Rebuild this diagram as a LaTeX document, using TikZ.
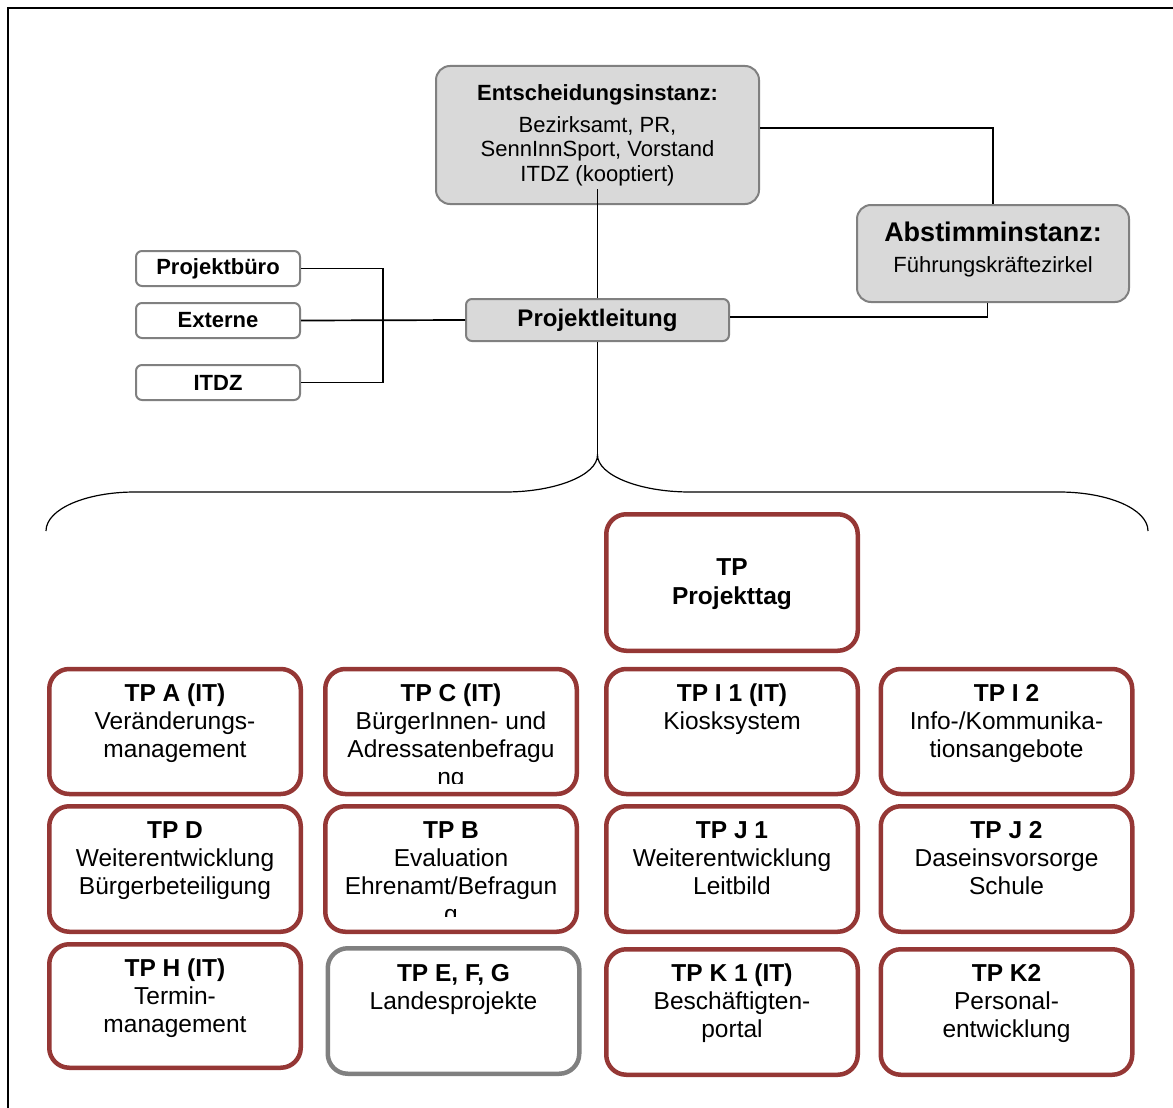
\documentclass[tikz,border=0pt]{standalone}
\usepackage{fontspec}
\setmainfont{Liberation Sans}
\definecolor{tpred}{HTML}{953735}
\definecolor{boxgray}{HTML}{808080}
\definecolor{boxfill}{HTML}{D9D9D9}
\newcommand{\fsz}[2]{\fontsize{#1}{#2}\selectfont}
\newcommand{\stt}[1]{\rule{0pt}{#1}}
\tikzset{
  gbox/.style={draw=boxgray, fill=boxfill, line width=2pt, rounded corners=14pt, inner sep=0pt},
  wbox/.style={draw=boxgray, fill=white, line width=2pt, rounded corners=6pt,
    minimum width=164pt, minimum height=35pt, inner sep=0pt, font=\fsz{22pt}{24pt}\bfseries},
  tpbox/.style={draw=tpred, fill=white, line width=4.5pt, rounded corners=20pt,
    minimum width=251.5pt, minimum height=125pt, inner sep=0pt},
  tpgray/.style={tpbox, draw=boxgray},
  tptext/.style={anchor=north, align=center, inner sep=0pt, font=\fsz{24.5pt}{28pt}},
  conn/.style={line width=1.7pt},
  thinconn/.style={line width=1.1pt},
}
\begin{document}
\begin{tikzpicture}[x=1pt,y=-1pt]
\useasboundingbox (0,0) rectangle (1173,1108);
% frame
\draw[line width=1.6pt] (8,1108) -- (8,8) -- (1173,8);

% top boxes
\node[gbox, minimum width=323pt, minimum height=138pt] (ent) at (597.5,135) {};
\node[anchor=north, align=center, inner sep=0pt, font=\fsz{22pt}{24.5pt}] (entt) at (597.5,84)
  {\stt{16pt}\textbf{Entscheidungsinstanz:}\\[7.5pt]Bezirksamt, PR,\\SennInnSport, Vorstand\\ITDZ (kooptiert)};

\node[gbox, minimum width=272pt, minimum height=97pt] (abst) at (993,253.5) {};
\node[anchor=north, align=center, inner sep=0pt, font=\fsz{22pt}{31pt}] (abstt) at (993,221.5)
  {\stt{19.5pt}{\fsz{27pt}{31pt}\bfseries Abstimminstanz:}\\Führungskräftezirkel};

\node[gbox, rounded corners=6pt, minimum width=263pt, minimum height=42pt, font=\fsz{24pt}{26pt}\bfseries] (pl) at (597.5,320) {Projektleitung};

\node[wbox] (pb) at (218,268.5) {Projektbüro};
\node[wbox] (ext) at (218,320.5) {Externe};
\node[wbox] (itdz) at (218,382.5) {ITDZ};

% connectors
\draw[conn] ([yshift=7pt]ent.east) -| (abst.north);
\draw[conn] ([xshift=-5.5pt]abst.south) |- ([yshift=3pt]pl.east);
\draw[conn] (pb.east) -- ++(82,0) |- (itdz.east);
\draw[conn] (ext.east) -- (pl.west);
\draw[thinconn] ([yshift=16pt]ent.south) -- (pl.north);
\coordinate (cusp) at (597.5,455);
\draw[thinconn] (pl.south) -- (cusp);

% brace
\coordinate (bl) at (46,531);
\coordinate (br) at (1148,531);
\draw[line width=1.2pt] (bl) .. controls (46,509) and (86,492) .. (135,492) -- (505,492)
  .. controls (556,492) and (597.5,475) .. (cusp)
  .. controls (597.5,475) and (639,492) .. (690,492) -- (1059,492)
  .. controls (1108,492) and (1148,509) .. (br);

% Projekttag
\node[tpbox, minimum height=136.5pt] (tpp) at (732,582.5) {};
\node[tptext, font=\fsz{24.5pt}{29pt}\bfseries] (tppt) at (732,557) {\stt{18pt}TP\\Projekttag};

% column 1
\node[tpbox] (ta) at (175,731.5) {};
\node[tptext] (tat) at (175,683) {\stt{18pt}\textbf{TP A (IT)}\\Veränderungs-\\management};
\node[tpbox, minimum height=125.5pt] (td) at (175,869) {};
\node[tptext] (tdt) at (175,820) {\stt{18pt}\textbf{TP D}\\Weiterentwicklung\\Bürgerbeteiligung};
\node[tpbox, minimum height=123.5pt] (th) at (175,1006) {};
\node[tptext] (tht) at (175,958) {\stt{18pt}\textbf{TP H (IT)}\\Termin-\\management};

% column 2
\node[tpbox] (tc) at (451,731.5) {};
\begin{scope}
\clip (330,672) rectangle (572,783);
\node[tptext] (tct) at (451,683) {\stt{18pt}\textbf{TP C (IT)}\\BürgerInnen- und\\Adressatenbefragu\\ng};
\end{scope}
\node[tpbox, minimum height=125.5pt] (tb) at (451,869) {};
\begin{scope}
\clip (330,810) rectangle (572,916);
\node[tptext] (tbt) at (451,820) {\stt{18pt}\textbf{TP B}\\Evaluation\\Ehrenamt/Befragun\\g};
\end{scope}
\node[tpgray, minimum height=125.5pt] (te) at (453.5,1011) {};
\node[tptext] (tet) at (453.5,963) {\stt{18pt}\textbf{TP E, F, G}\\Landesprojekte};

% column 3
\node[tpbox] (ti1) at (732,731.5) {};
\node[tptext] (ti1t) at (732,683) {\stt{18pt}\textbf{TP I 1 (IT)}\\Kiosksystem};
\node[tpbox, minimum height=125.5pt] (tj1) at (732,869) {};
\node[tptext] (tj1t) at (732,820) {\stt{18pt}\textbf{TP J 1}\\Weiterentwicklung\\Leitbild};
\node[tpbox, minimum height=125.5pt] (tk1) at (732,1012) {};
\node[tptext] (tk1t) at (732,963) {\stt{18pt}\textbf{TP K 1 (IT)}\\Beschäftigten-\\portal};

% column 4
\node[tpbox] (ti2) at (1006.5,731.5) {};
\node[tptext] (ti2t) at (1006.5,683) {\stt{18pt}\textbf{TP I 2}\\Info-/Kommunika-\\tionsangebote};
\node[tpbox, minimum height=125.5pt] (tj2) at (1006.5,869) {};
\node[tptext] (tj2t) at (1006.5,820) {\stt{18pt}\textbf{TP J 2}\\Daseinsvorsorge\\Schule};
\node[tpbox, minimum height=125.5pt] (tk2) at (1006.5,1012) {};
\node[tptext] (tk2t) at (1006.5,963) {\stt{18pt}\textbf{TP K2}\\Personal-\\entwicklung};
\end{tikzpicture}
\end{document}
